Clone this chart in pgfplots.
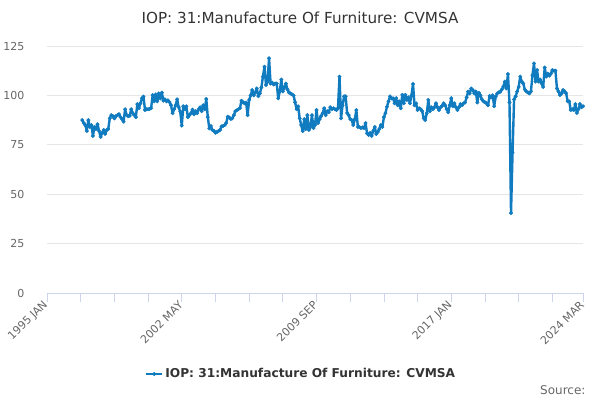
\documentclass[border=0pt]{standalone}
\usepackage{pgfplots}
\usepackage{pgfplotstable}
\pgfplotsset{compat=1.18}
\usepackage{fontspec}
\setmainfont{DejaVu Sans}
\definecolor{ser}{RGB}{17,123,192}
\definecolor{gridc}{RGB}{230,230,230}
\definecolor{axc}{RGB}{204,214,235}
\definecolor{lab}{RGB}{102,102,102}
\definecolor{tit}{RGB}{51,51,51}
\pgfplotstableread[row sep=\\]{
v\\
87.5\\ 86\\ 85\\ 82\\ 87.5\\ 84\\ 85\\ 79.5\\ 84\\ 83\\ 85.4\\ 82\\ 79\\ 81\\
82.5\\ 80.5\\ 82.5\\ 83\\ 88.4\\ 90\\ 89.5\\ 88.4\\ 89.5\\ 90\\ 90.5\\ 89\\
88\\ 86.7\\ 93\\ 90\\ 89.5\\ 89.7\\ 93\\ 91\\ 90\\ 89\\ 95.6\\ 93.5\\
96\\ 98.5\\ 99.4\\ 92.6\\ 93\\ 93\\ 93.2\\ 93.5\\ 100.2\\ 97\\ 100.5\\ 97\\
101\\ 98.5\\ 101.4\\ 97.3\\ 98\\ 97\\ 97.5\\ 96.6\\ 95\\ 91\\ 93\\ 95\\
98\\ 94\\ 91.8\\ 84.7\\ 94.5\\ 93\\ 94.5\\ 89\\ 90\\ 91\\ 92.8\\ 90.4\\
92\\ 91\\ 93\\ 94\\ 92\\ 95\\ 93\\ 98.2\\ 89\\ 83.3\\ 84.5\\ 82.5\\
82\\ 81.1\\ 81.5\\ 82\\ 82.5\\ 84.3\\ 84.5\\ 85\\ 86\\ 89.2\\ 88.8\\ 88\\
88.4\\ 90\\ 92\\ 92.5\\ 93\\ 93.6\\ 97.3\\ 96.5\\ 96\\ 96.4\\ 90\\ 97.7\\
100\\ 102.7\\ 100\\ 101.5\\ 103.5\\ 99.6\\ 101\\ 104\\ 109.5\\ 114.5\\ 105.3\\ 107\\
118.8\\ 106\\ 106.5\\ 105.5\\ 106\\ 106\\ 98.5\\ 102\\ 108\\ 102\\ 104\\ 106\\
103\\ 101.5\\ 101\\ 100.5\\ 100\\ 96.5\\ 93\\ 94.5\\ 88.4\\ 85\\ 82\\ 88\\
83\\ 90\\ 82.5\\ 84\\ 90\\ 83.5\\ 85\\ 92.6\\ 86\\ 88\\ 89.5\\ 91\\
93.5\\ 90\\ 92\\ 91.5\\ 94\\ 93\\ 93.5\\ 93\\ 92.6\\ 93.5\\ 109.5\\ 88.4\\
95\\ 99.5\\ 99.5\\ 91.1\\ 90\\ 88\\ 87.5\\ 85\\ 88\\ 92.6\\ 84\\ 84\\
83.5\\ 83.8\\ 83.5\\ 86\\ 80.8\\ 80\\ 81\\ 79.5\\ 82\\ 84\\ 80.5\\ 81.5\\
83\\ 85\\ 84\\ 89\\ 91\\ 94.3\\ 97\\ 99.5\\ 98.5\\ 98.5\\ 96\\ 98.6\\
95\\ 97\\ 93.5\\ 100.3\\ 96\\ 100.3\\ 97.7\\ 99\\ 96\\ 100\\ 105.8\\ 95\\
96\\ 92.6\\ 93.5\\ 93\\ 92\\ 88.4\\ 87.5\\ 91\\ 97.7\\ 92\\ 94\\ 93\\
94\\ 96\\ 94\\ 92.6\\ 94\\ 94.7\\ 96\\ 95\\ 93\\ 91.5\\ 95\\ 98.6\\
94.5\\ 96\\ 94\\ 92.6\\ 94\\ 95.6\\ 95\\ 96\\ 96.4\\ 99\\ 101.9\\ 101\\
103.5\\ 102.7\\ 101\\ 102\\ 96.4\\ 101.3\\ 100\\ 98\\ 97\\ 96.5\\ 96\\ 95\\
99.7\\ 99\\ 100\\ 94.5\\ 99.4\\ 101\\ 101.5\\ 101.9\\ 103\\ 104.5\\ 107\\ 103.5\\
110.8\\ 96.4\\ 40.5\\ 71\\ 98\\ 99.5\\ 102\\ 104.3\\ 109.5\\ 107\\ 106\\ 103\\
102\\ 101.5\\ 101\\ 102\\ 110.2\\ 116.2\\ 107\\ 112.8\\ 107\\ 108\\ 106\\ 104.3\\
114.1\\ 109.5\\ 111\\ 110\\ 111\\ 112.8\\ 112.5\\ 112.5\\ 103.5\\ 102\\ 100.2\\ 101\\
102.7\\ 102\\ 101\\ 97\\ 97\\ 92.6\\ 93\\ 92.6\\ 95.6\\ 91.1\\ 93\\ 95.6\\
94\\ 94.5\\
}\furn
\begin{document}
\begin{tikzpicture}[x=1pt,y=1pt]
\useasboundingbox (0,0) rectangle (600,400);
\node[font=\fontsize{15.2}{18}\selectfont, text=tit] at (300,382) {IOP: 31:Manufacture Of Furniture: CVMSA};
\node[font=\fontsize{12}{14}\selectfont, text=lab, anchor=east] at (589,10) {Source:};
\begin{axis}[
  at={(47pt,107pt)}, anchor=south west,
  scale only axis, width=536pt, height=247pt,
  xmin=0, xmax=350, ymin=0, ymax=125,
  axis x line*=bottom, axis y line*=left,
  x axis line style={color=axc, line width=0.8pt},
  y axis line style={draw=none},
  ytick={0,25,50,75,100,125},
  ymajorgrids, grid style={gridc, line width=0.8pt},
  xtick={0,88,176,264,350},
  xticklabels={1995 JAN,2002 MAY,2009 SEP,2017 JAN,2024 MAR},
  minor xtick={22,44,66,110,132,154,198,220,242,286,308,330},
  tick align=outside,
  x tick style={color=axc, line width=0.8pt},
  major tick length=9pt, minor tick length=9pt,
  y tick style={draw=none},
  ticklabel style={font=\fontsize{11}{13}\selectfont, text=lab},
  yticklabel style={xshift=-10pt},
  xticklabel style={rotate=45, anchor=east, xshift=2pt},
  /pgf/number format/assume math mode=true,
  legend style={at={(0.474,-0.328)}, anchor=center, draw=none, fill=none,
    font=\bfseries\fontsize{12.2}{14}\selectfont, text=tit},
  legend image code/.code={\draw[#1, mark repeat=2, mark phase=2] plot coordinates {(0pt,0pt)(8pt,0pt)(16pt,0pt)};},
]
\addplot[draw=ser, line width=2.4pt, line join=round, mark=*, mark size=1.8pt, mark options={fill=ser, draw=ser, line width=0.4pt}]
  table[x expr=\coordindex+23, y=v] {\furn};
\addlegendentry{IOP: 31:Manufacture Of Furniture: CVMSA}
\end{axis}
\end{tikzpicture}
\end{document}
